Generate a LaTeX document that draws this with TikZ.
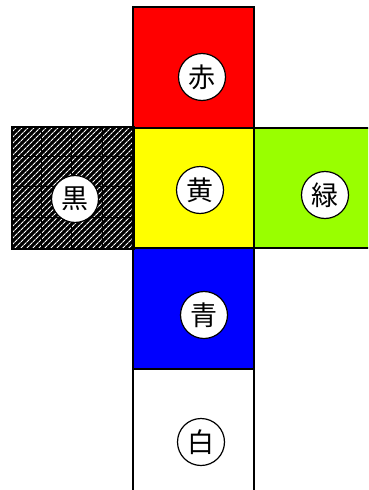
\documentclass[tikz,border=0pt]{standalone}
\usepackage{fontspec}
\newfontfamily\cjk{Noto Sans CJK JP}
\usetikzlibrary{patterns.meta}
\definecolor{Aka}   {HTML}{FF0000}
\definecolor{Ki}    {HTML}{FFFF00}
\definecolor{Midori}{HTML}{99FF00}
\definecolor{Ao}    {HTML}{0000FF}
\tikzset{
  face/.style={
    rectangle, draw=black, fill=#1,
    line width=2pt, inner sep=0pt,
    minimum width=120.5pt, minimum height=120.5pt,
  },
  hatched/.style={
    face=black, pattern color=white,
    postaction={pattern={Lines[angle=45,distance=4pt,line width=1.1pt]}},
  },
  hatchgrid/.style={line width=0.7pt, draw=black},
  tag/.style={
    circle, draw=black, fill=white,
    line width=1.2pt, inner sep=0pt, minimum size=47pt,
    font=\cjk\fontsize{27}{27}\selectfont,
  },
}

\begin{document}
\begin{tikzpicture}[x=1pt,y=-1pt]
  \useasboundingbox (0,0) rectangle (368,490);
  \clip (0,0) rectangle (368,490);
  % faces of the net
  \node[face=Aka]    (top)    at (193.25,67.25)  {};
  \node[hatched]     (kuro)   at (72.75,187.75)  {};
  \node[face=Ki]     (center) at (193.25,187.75) {};
  \node[face=Midori] (right)  at (313.75,187.75) {};
  \node[face=Ao]     (front)  at (193.25,308.25) {};
  \node[face=white, minimum height=126pt] (bottom) at (193.25,431.5) {};
  \foreach \k in {1,2,3} {
    \draw[hatchgrid] ([xshift=30.125*\k pt]kuro.north west) -- ([xshift=30.125*\k pt]kuro.south west);
    \draw[hatchgrid] ([yshift=-30.125*\k pt]kuro.north west) -- ([yshift=-30.125*\k pt]kuro.north east);
  }
  \draw[line width=2pt] (kuro.north west) rectangle (kuro.south east);
  % colour names
  \node[tag] (tAka)    at (202,77)  {赤};
  \node[tag] (tKuro)   at (75,199)  {黒};
  \node[tag] (tKi)     at (200,190) {黄};
  \node[tag] (tMidori) at (325,195) {緑};
  \node[tag] (tAo)     at (204,315) {青};
  \node[tag] (tShiro)  at (201,442) {白};
\end{tikzpicture}
\end{document}
